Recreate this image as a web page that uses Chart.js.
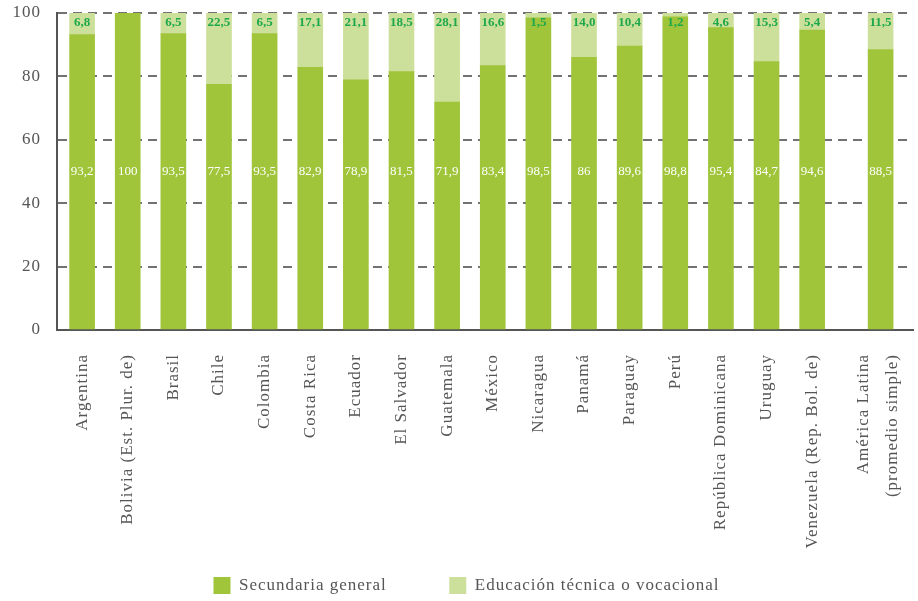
<!DOCTYPE html>
<html lang="es">
<head>
<meta charset="utf-8">
<script src="https://cdn.jsdelivr.net/npm/chart.js@4/dist/chart.umd.min.js"></script>
<style>
  html, body { margin: 0; padding: 0; background: #fff; }
  #chart { display: block; }
</style>
</head>
<body>
<canvas id="chart" width="918" height="601"></canvas>
<script>
const countries = [
  'Argentina', 'Bolivia (Est. Plur. de)', 'Brasil', 'Chile', 'Colombia', 'Costa Rica',
  'Ecuador', 'El Salvador', 'Guatemala', 'México', 'Nicaragua', 'Panamá', 'Paraguay',
  'Perú', 'República Dominicana', 'Uruguay', 'Venezuela (Rep. Bol. de)',
]
const averageLabel = ['América Latina', '(promedio simple)']

const generalValues = [93.2, 100, 93.5, 77.5, 93.5, 82.9, 78.9, 81.5, 71.9, 83.4, 98.5, 86, 89.6, 98.8, 95.4, 84.7, 94.6, 88.5]
const tecnicaValues = [6.8, 0, 6.5, 22.5, 6.5, 17.1, 21.1, 18.5, 28.1, 16.6, 1.5, 14.0, 10.4, 1.2, 4.6, 15.3, 5.4, 11.5]

const yTicks = [0, 20, 40, 60, 80, 100]

const labels = [...countries, averageLabel]
// el promedio regional va separado del resto por medio espacio
const gapBeforeAverage = 0.5
const xPos = labels.map((_, i) => (i < countries.length ? i : i + gapBeforeAverage))

const DARK = '#a0c53a'
const LIGHT = '#cde09b'
const AXIS = '#555555'
const SERIF = '"Liberation Serif", "DejaVu Serif", serif'

const fmt = (v, fixed) => (fixed ? v.toFixed(1) : String(v)).replace('.', ',')

// un poco de espaciado entre letras para los textos de ejes y leyenda
const tracking = {
  id: 'tracking',
  beforeUpdate(chart) {
    chart.ctx.letterSpacing = '1px'
  },
  beforeDraw(chart) {
    chart.ctx.letterSpacing = '1px'
  },
  afterLayout(chart) {
    // leyenda algo corrida a la derecha y hacia abajo
    const lg = chart.legend
    lg.left += 4
    lg.right += 4
    lg.top += 3
    lg.bottom += 3
  },
}

// etiquetas de valor: blancas a media altura, verdes arriba
const valueLabels = {
  id: 'valueLabels',
  afterDatasetsDraw(chart) {
    const { ctx } = chart
    const y = chart.scales.y
    const bottomBars = chart.getDatasetMeta(0).data
    const topBars = chart.getDatasetMeta(1).data
    ctx.save()
    ctx.letterSpacing = '0px'
    ctx.textAlign = 'center'
    ctx.textBaseline = 'middle'
    ctx.font = '13px ' + SERIF
    ctx.fillStyle = '#ffffff'
    bottomBars.forEach((bar, i) => {
      ctx.fillText(fmt(generalValues[i], false), bar.x, y.getPixelForValue(50))
    })
    ctx.font = 'bold 13px ' + SERIF
    ctx.fillStyle = '#1ea84b'
    topBars.forEach((bar, i) => {
      if (!tecnicaValues[i]) return
      ctx.fillText(fmt(tecnicaValues[i], true), bar.x, y.getPixelForValue(100) + 10)
    })
    ctx.restore()
  },
}

const ctx = document.getElementById('chart').getContext('2d')

new Chart(ctx, {
  type: 'bar',
  data: {
    datasets: [
      {
        label: 'Secundaria general',
        data: generalValues.map((v, i) => ({ x: xPos[i], y: v })),
        backgroundColor: DARK,
        borderWidth: 0,
        barThickness: 25,
      },
      {
        label: 'Educación técnica o vocacional',
        data: tecnicaValues.map((v, i) => ({ x: xPos[i], y: v })),
        backgroundColor: LIGHT,
        borderWidth: 0,
        barThickness: 25,
      },
    ],
  },
  options: {
    responsive: false,
    animation: false,
    layout: { padding: { left: 12, right: 5, top: 13, bottom: 0 } },
    plugins: {
      tooltip: { enabled: false },
      legend: {
        position: 'bottom',
        labels: {
          boxWidth: 17,
          boxHeight: 17,
          padding: 10,
          color: AXIS,
          font: { family: SERIF, size: 17 },
          generateLabels: chart => {
            const items = Chart.defaults.plugins.legend.labels.generateLabels(chart)
            // más aire entre las dos entradas
            items[0].text += '          '
            return items
          },
        },
      },
    },
    scales: {
      x: {
        type: 'linear',
        stacked: true,
        offset: false,
        min: -0.55,
        max: xPos[xPos.length - 1] + 0.71,
        grid: { display: false, drawTicks: false },
        border: { display: true, color: AXIS, width: 2 },
        afterBuildTicks: axis => {
          // la etiqueta de dos líneas se centra sobre su barra
          axis.ticks = xPos.map((v, i) => ({ value: Array.isArray(labels[i]) ? v - 0.38 : v }))
        },
        afterFit: scale => {
          scale.height = 234
          scale.paddingLeft = 0
          scale.paddingRight = 0
        },
        ticks: {
          autoSkip: false,
          minRotation: 90,
          maxRotation: 90,
          padding: 24,
          color: AXIS,
          font: { family: SERIF, size: 17, lineHeight: 1.7 },
          callback: (value, index) => labels[index],
        },
      },
      y: {
        stacked: true,
        min: 0,
        max: 100,
        afterBuildTicks: axis => {
          axis.ticks = yTicks.map(v => ({ value: v }))
        },
        afterFit: scale => {
          scale.width = 45
          scale.paddingTop = 0
          scale.paddingBottom = 0
        },
        grid: { color: '#727272', lineWidth: 2, drawTicks: false },
        border: { display: true, color: AXIS, width: 2, dash: [9, 6] },
        ticks: {
          padding: 16,
          color: AXIS,
          font: { family: SERIF, size: 17 },
        },
      },
    },
  },
  plugins: [tracking, valueLabels],
})
</script>
</body>
</html>
